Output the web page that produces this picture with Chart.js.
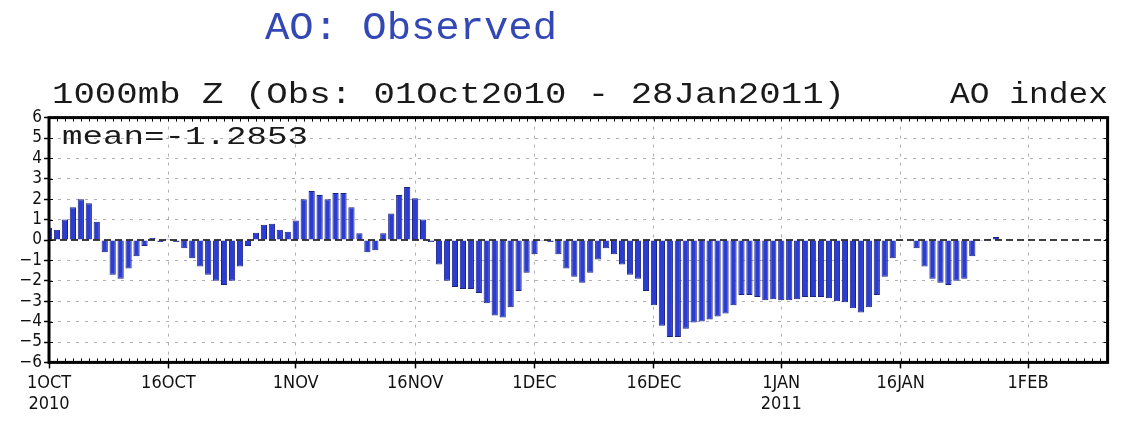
<!DOCTYPE html>
<html>
<head>
<meta charset="utf-8">
<script src="https://cdn.jsdelivr.net/npm/chart.js@4.4.1/dist/chart.umd.min.js"></script>
<style>
  html, body { margin: 0; padding: 0; background: #ffffff; }
  #wrap { position: relative; width: 1123px; height: 424px; overflow: hidden; background: #ffffff; }
  #c { position: absolute; left: 0; top: 0; }
  .txt { position: absolute; white-space: pre; line-height: 1; font-family: 'Liberation Mono', 'DejaVu Sans Mono', monospace; font-weight: normal; color: #1a1a1a; transform-origin: 0 0; }
</style>
</head>
<body>
<div id="wrap">
  <canvas id="c" width="1123" height="424"></canvas>
  <div class="txt" id="title" data-w="292" style="left:265px; top:10px; font-size:39px; color:#3347b5;">AO: Observed</div>
  <div class="txt" id="sub" data-w="793" style="left:52px; top:80px; font-size:30px;">1000mb Z (Obs: 01Oct2010 - 28Jan2011)</div>
  <div class="txt" id="idx" data-w="158" style="left:950px; top:80px; font-size:30px;">AO index</div>
  <div class="txt" id="mean" data-w="246" style="left:62px; top:124px; font-size:26px;">mean=-1.2853</div>
</div>
<script>
// ---- data ----
// daily AO index, 1 Oct 2010 .. 28 Jan 2011 (120 days)
const aoValues = [
  0.6, 0.5, 1.0, 1.6, 2.0, 1.8, 0.9, -0.6, -1.7, -1.9,
  -1.4, -0.8, -0.3, 0.1, -0.1, 0.05, -0.1, -0.4, -0.9, -1.3,
  -1.7, -2.0, -2.2, -2.0, -1.3, -0.3, 0.35, 0.75, 0.8, 0.5,
  0.4, 0.95, 2.0, 2.4, 2.2, 2.0, 2.3, 2.3, 1.6, 0.33,
  -0.6, -0.5, 0.33, 1.3, 2.2, 2.6, 2.05, 1.0, -0.1, -1.2,
  -2.0, -2.3, -2.4, -2.4, -2.6, -3.1, -3.7, -3.8, -3.3, -2.5,
  -1.6, -0.7, -0.05, -0.1, -0.7, -1.4, -1.8, -2.1, -1.6, -0.95,
  -0.4, -0.7, -1.2, -1.7, -1.9, -2.5, -3.2, -4.2, -4.75, -4.75,
  -4.35, -4.05, -4.0, -3.9, -3.75, -3.6, -3.2, -2.7, -2.7, -2.8,
  -2.95, -2.9, -2.95, -2.95, -2.9, -2.8, -2.8, -2.8, -2.85, -3.0,
  -3.05, -3.35, -3.55, -3.3, -2.7, -1.8, -0.9, -0.05, 0.02, -0.4,
  -1.3, -1.9, -2.1, -2.2, -2.0, -1.9, -0.8, -0.05, 0.05, 0.15
];
// axis spans 1 Oct 2010 .. 11 Feb 2011 (134 days)
const axisStart = Date.UTC(2010, 9, 1);
const axisDays = 134;
const categories = [];
for (let i = 0; i < axisDays; i++) {
  categories.push(new Date(axisStart + i * 86400000).toISOString().slice(0, 10));
}
// major tick labels (day index -> label lines)
const majorDays   = [0, 15, 31, 46, 61, 76, 92, 107, 123];
const majorLabels = [['1OCT', '2010'], '16OCT', '1NOV', '16NOV', '1DEC', '16DEC', ['1JAN', '2011'], '16JAN', '1FEB'];
const yMin = -6, yMax = 6;

// ---- fit overlay text widths ----
document.querySelectorAll('.txt').forEach(el => {
  const target = parseFloat(el.dataset.w);
  const nat = el.getBoundingClientRect().width;
  if (nat > 0) el.style.transform = 'scaleX(' + (target / nat) + ')';
});

const tickFamily = "'Liberation Sans Narrow', 'DejaVu Sans Condensed', 'Liberation Sans', sans-serif";

const framePlugin = {
  id: 'frame',
  afterDatasetsDraw(chart) {
    const { ctx, chartArea: a, scales: { x, y } } = chart;
    ctx.save();
    // zero line
    const y0 = y.getPixelForValue(0);
    ctx.strokeStyle = '#000';
    ctx.lineWidth = 1.5;
    ctx.setLineDash([7, 4]);
    ctx.beginPath(); ctx.moveTo(a.left, y0); ctx.lineTo(a.right, y0); ctx.stroke();
    ctx.setLineDash([]);
    // minor day ticks on top and bottom borders
    ctx.lineWidth = 1;
    ctx.beginPath();
    for (let i = 0; i < axisDays; i++) {
      const px = Math.round(x.getPixelForValue(i)) + 0.5;
      ctx.moveTo(px, a.bottom); ctx.lineTo(px, a.bottom - 4);
      ctx.moveTo(px, a.top); ctx.lineTo(px, a.top + 4);
    }
    // ticks on left/right borders
    for (let v = yMin; v <= yMax; v++) {
      const py = Math.round(y.getPixelForValue(v)) + 0.5;
      ctx.moveTo(a.right, py); ctx.lineTo(a.right - 4, py);
      ctx.moveTo(a.left, py); ctx.lineTo(a.left + 4, py);
    }
    ctx.stroke();
    // frame
    ctx.lineWidth = 3;
    ctx.strokeRect(a.left, a.top, a.right - a.left, a.bottom - a.top);
    ctx.restore();
  }
};

new Chart(document.getElementById('c'), {
  type: 'bar',
  data: {
    labels: categories,
    datasets: [{
      label: 'AO index',
      data: aoValues,
      backgroundColor: '#2a3cd2',
      borderColor: '#1a2280',
      borderWidth: 1,
      barPercentage: 0.78,
      categoryPercentage: 1.0
    }]
  },
  options: {
    responsive: false,
    animation: false,
    devicePixelRatio: 1,
    layout: { padding: { left: 0, right: 15.4, top: 117.6, bottom: 11.6 } },
    plugins: { legend: { display: false }, tooltip: { enabled: false }, title: { display: false } },
    scales: {
      x: {
        type: 'category',
        offset: false,
        afterFit(scale) { scale.height = 50; },
        border: { display: false, dash: [3, 6] },
        grid: {
          offset: false,
          drawOnChartArea: true,
          color(ctx) {
            const i = ctx.index;
            return (majorDays.includes(i) && i !== 0) ? '#b0b0b0' : 'rgba(0,0,0,0)';
          },
          tickColor(ctx) { return majorDays.includes(ctx.index) ? '#000' : 'rgba(0,0,0,0)'; },
          tickLength: 6,
          tickWidth: 1.5,
          lineWidth: 1
        },
        ticks: {
          autoSkip: false,
          maxRotation: 0,
          minRotation: 0,
          padding: 4,
          color: '#111',
          font: { family: tickFamily, size: 18 },
          callback(value, index) {
            const k = majorDays.indexOf(index);
            return k >= 0 ? majorLabels[k] : '';
          }
        }
      },
      y: {
        min: yMin,
        max: yMax,
        afterFit(scale) { scale.width = 49; },
        border: { display: false, dash: [3, 6] },
        grid: {
          color(ctx) {
            const v = ctx.tick ? ctx.tick.value : 0;
            return (v === 0 || v === yMin || v === yMax) ? 'rgba(0,0,0,0)' : '#b0b0b0';
          },
          tickColor: '#000',
          tickLength: 5,
          tickWidth: 1.5,
          lineWidth: 1
        },
        ticks: {
          stepSize: 1,
          autoSkip: false,
          padding: 2,
          color: '#111',
          font: { family: tickFamily, size: 17 },
          callback(v) { return v < 0 ? '\u2212' + Math.abs(v) : String(v); }
        }
      }
    }
  },
  plugins: [framePlugin]
});
</script>
</body>
</html>
